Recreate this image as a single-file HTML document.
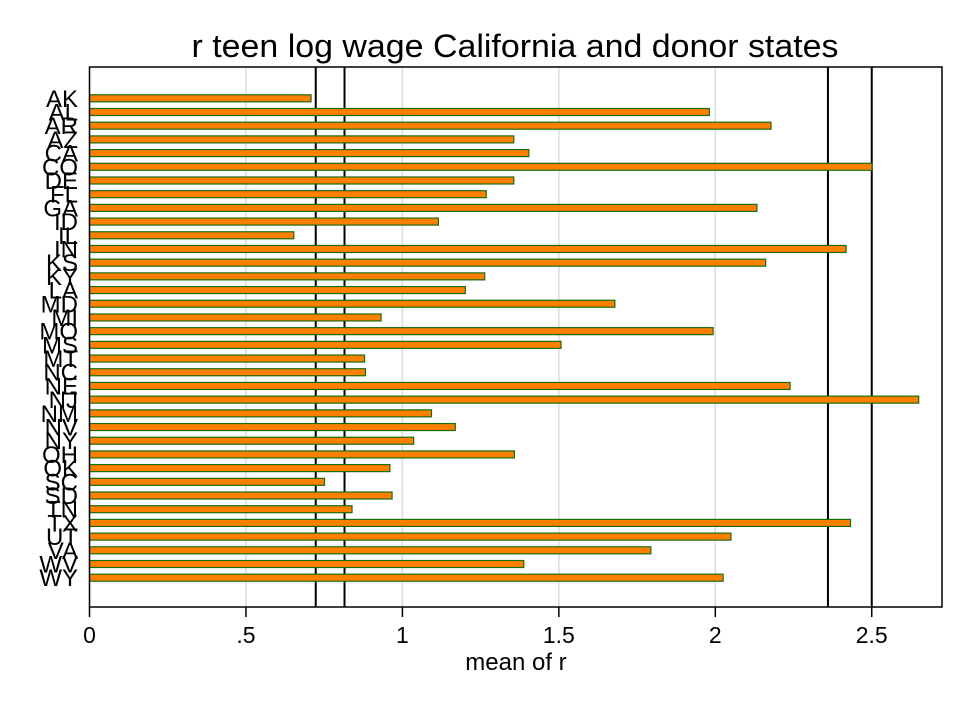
<!DOCTYPE html>
<html><head><meta charset="utf-8"><style>
html,body{margin:0;padding:0;background:#fff;}
svg{display:block;font-family:"Liberation Sans",Arial,sans-serif;}
</style></head><body>
<svg id="chart" width="968" height="704" viewBox="0 0 968 704">
<rect x="0" y="0" width="968" height="704" fill="#fff"/>
<text x="515" y="57" font-size="32" text-anchor="middle" textLength="647" lengthAdjust="spacingAndGlyphs" fill="#000">r teen log wage California and donor states</text>
<g id="grid"></g>
<g id="vlines"></g>
<g id="bars"></g>
<rect x="89.5" y="67" width="852.5" height="540" fill="none" stroke="#000" stroke-width="1.5"/>
<g id="xaxis"></g>
<g id="ylabels"></g>
<text x="516" y="670" font-size="24" text-anchor="middle" fill="#000">mean of r</text>
</svg>
<script>
const states = ["AK","AL","AR","AZ","CA","CO","DE","FL","GA","ID","IL","IN","KS","KY","LA","MD","MI","MO","MS","MT","NC","NE","NJ","NM","NV","NY","OH","OK","SC","SD","TN","TX","UT","VA","WV","WY"];
const values = [0.708,1.981,2.178,1.356,1.404,2.501,1.356,1.268,2.133,1.115,0.653,2.418,2.161,1.263,1.201,1.679,0.932,1.993,1.507,0.879,0.882,2.239,2.650,1.093,1.169,1.036,1.358,0.960,0.751,0.967,0.839,2.432,2.050,1.794,1.388,2.025];
const refLines = [0.723,0.815,2.36,2.5];
const xTicks = [0,0.5,1,1.5,2,2.5];
const xTickLabels = ["0",".5","1","1.5","2","2.5"];

const NS="http://www.w3.org/2000/svg";
function xs(v){return 89.5+v*312.9;}
function ys(i){return 98.3+i*(577.7-98.3)/(states.length-1);}
function mk(tag,attrs,parent){const e=document.createElementNS(NS,tag);for(const k in attrs)e.setAttribute(k,attrs[k]);document.getElementById(parent).appendChild(e);return e;}

xTicks.forEach((t,i)=>{
  if(t>0){
    const g=mk('line',{x1:xs(t),x2:xs(t),y1:67,y2:607,stroke:'#dcdcdc','stroke-width':1.5},'grid');
    
    
  }
  const tk=mk('line',{x1:xs(t),x2:xs(t),y1:607,y2:617,stroke:'#000','stroke-width':1.5},'xaxis');
  
  
  const lb=mk('text',{x:xs(t),y:643,'font-size':23,'text-anchor':'middle',fill:'#000'},'xaxis');
  lb.textContent=xTickLabels[i];
  
  
});
refLines.forEach(v=>{
  const l=mk('line',{x1:xs(v),x2:xs(v),y1:67,y2:607,stroke:'#000','stroke-width':2},'vlines');
  
  
});
states.forEach((s,i)=>{
  const y=ys(i);
  const r=mk('rect',{x:xs(0),y:y-3.5,width:xs(values[i])-xs(0),height:7,fill:'#ff8000',stroke:'#1a6b10','stroke-width':1.2},'bars');
  
  
  const t=mk('text',{x:78,y:y+8.5,'font-size':24,'text-anchor':'end',fill:'#000'},'ylabels');
  t.textContent=s;
  
  
});
</script>
</body></html>
